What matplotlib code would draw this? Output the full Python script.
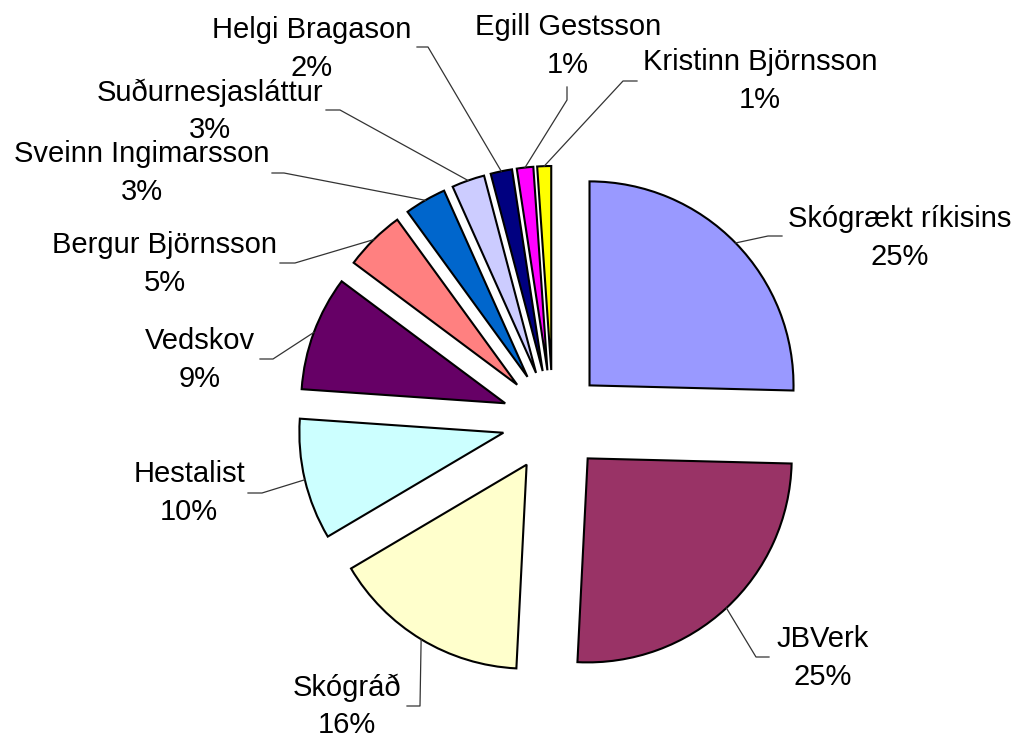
import numpy as np
import matplotlib
matplotlib.use("Agg")
import matplotlib.pyplot as plt

# slice data, clockwise from 12 o'clock
names = [
    "Skógrækt ríkisins", "JBVerk", "Skógráð", "Hestalist", "Vedskov",
    "Bergur Björnsson", "Sveinn Ingimarsson", "Suðurnesjasláttur",
    "Helgi Bragason", "Egill Gestsson", "Kristinn Björnsson",
]
shares = [25.4, 25.4, 15.7, 9.6, 9.1, 4.8, 3.3, 2.6, 1.7, 1.3, 1.1]
colors = [
    "#9999FF", "#993366", "#FFFFCC", "#CCFFFF", "#660066",
    "#FF8080", "#0066CC", "#CCCCFF", "#000080", "#FF00FF", "#FFFF00",
]

# label layout in pixels (image coords): text centre, leader anchor, stub to elbow
label_xy = [(900, 238), (823, 658), (347, 706), (189, 493), (200, 360),
            (165, 264), (142, 173), (210, 111), (312, 49), (568, 46), (760, 81)]
anchor_xy = [(782, 236), (769, 657), (407, 706), (248, 493), (260, 359),
             (280, 263), (272, 173), (326, 110), (417, 47), (567, 87), (637, 81)]
stub = [(-14, 0), (-13, 0), (13, 0), (14, 0), (13, 0),
        (15, 0), (12, 0), (14, 0), (11, 0), (0, 13), (-14, 0)]

W, H = 1017, 738
CX, CY, SCALE = 553, 421, 204  # pie centre and pixels per unit radius


def px(x, y):
    return (x - CX) / SCALE, (CY - y) / SCALE


def main() -> None:
    fig = plt.figure(figsize=(W / 100, H / 100), dpi=100)
    ax = fig.add_axes([0, 0, 1, 1])

    wedges, _ = ax.pie(
        shares, colors=colors, startangle=90, counterclock=False,
        explode=[0.25] * len(shares), radius=1,
        wedgeprops=dict(edgecolor="black", linewidth=1.5),
    )

    for w, name, val, (tx, ty), (axp, ayp), (sx, sy) in zip(
            wedges, names, shares, label_xy, anchor_xy, stub):
        mid = np.deg2rad((w.theta1 + w.theta2) / 2)
        x0 = w.center[0] + w.r * np.cos(mid)
        y0 = w.center[1] + w.r * np.sin(mid)
        ex, ey = px(axp + sx, ayp + sy)
        ax_, ay_ = px(axp, ayp)
        ax.plot([x0, ex, ax_], [y0, ey, ay_], color="#333333", lw=0.9)
        lx, ly = px(tx, ty)
        ax.text(lx, ly, f"{name}\n{val:.0f}%", ha="center", va="center",
                fontsize=21, family="Liberation Sans", linespacing=1.42)

    ax.set_xlim(-CX / SCALE, (W - CX) / SCALE)
    ax.set_ylim(-(H - CY) / SCALE, CY / SCALE)
    ax.set_aspect("equal")
    ax.axis("off")

    fig.savefig("out.png", dpi=100)
    plt.close()


if __name__ == "__main__":
    main()
